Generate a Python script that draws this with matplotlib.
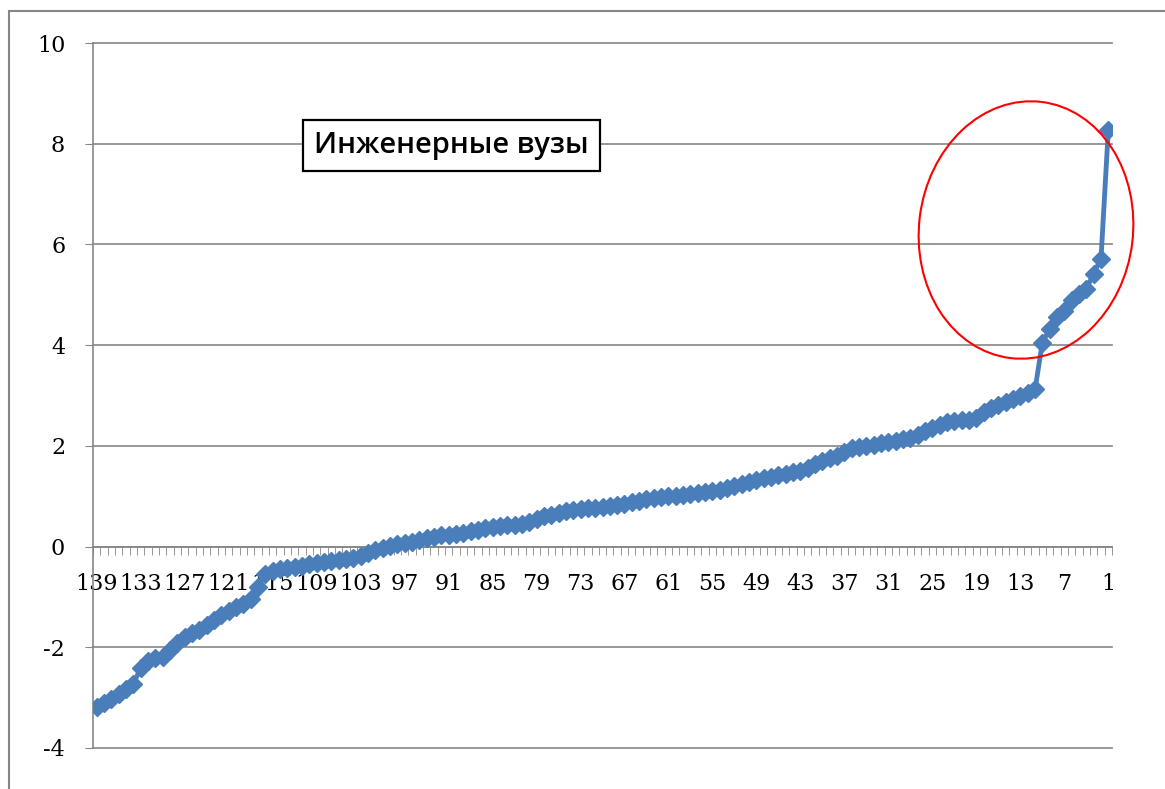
import matplotlib
matplotlib.use('Agg')
import matplotlib.pyplot as plt
from matplotlib.patches import Ellipse, Rectangle

# data: rank (139 .. 1) and score
ranks = list(range(139, 0, -1))
values = [
    -3.18, -3.10, -3.02, -2.92, -2.82, -2.72, -2.42, -2.27, -2.22, -2.20,
    -2.05, -1.92, -1.80, -1.72, -1.65, -1.55, -1.45, -1.35, -1.27, -1.20,
    -1.15, -1.05, -0.80, -0.55, -0.48, -0.45, -0.43, -0.41, -0.38, -0.35,
    -0.33, -0.31, -0.29, -0.27, -0.24, -0.22, -0.18, -0.12, -0.06, -0.02,
    0.02, 0.05, 0.07, 0.10, 0.13, 0.17, 0.20, 0.22, 0.23, 0.25,
    0.27, 0.30, 0.33, 0.36, 0.38, 0.40, 0.42, 0.43, 0.45, 0.48,
    0.55, 0.60, 0.63, 0.66, 0.70, 0.73, 0.75, 0.76, 0.77, 0.78,
    0.80, 0.82, 0.85, 0.88, 0.91, 0.94, 0.96, 0.98, 1.00, 1.01,
    1.02, 1.04, 1.06, 1.08, 1.10, 1.13, 1.16, 1.20, 1.24, 1.28,
    1.32, 1.36, 1.39, 1.42, 1.45, 1.48, 1.51, 1.56, 1.63, 1.70,
    1.76, 1.80, 1.88, 1.95, 1.98, 2.00, 2.02, 2.05, 2.08, 2.10,
    2.13, 2.16, 2.22, 2.30, 2.36, 2.42, 2.48, 2.50, 2.51, 2.52,
    2.55, 2.68, 2.75, 2.82, 2.88, 2.94, 2.99, 3.05, 3.12, 4.05,
    4.32, 4.55, 4.68, 4.90, 5.02, 5.12, 5.42, 5.72, 8.28,
]
title = 'Инженерные вузы'
yticks = [-4, -2, 0, 2, 4, 6, 8, 10]

grid_col = '#868686'
line_col = '#4a7ebb'
tick_font = {'family': 'DejaVu Serif', 'size': 16}

fig = plt.figure(figsize=(11.65, 7.89), dpi=100)
ax = fig.add_axes([93 / 1165, 41 / 789, 1019 / 1165, 705 / 789])

pos = list(range(len(ranks)))
ax.plot(pos, values, color=line_col, lw=3.5, marker='D', ms=9.5,
        mec=line_col, mfc=line_col, zorder=3)

ax.set_xlim(-0.5, len(ranks) - 0.5)
ax.set_ylim(-4, 10)

# y axis + grid
ax.set_yticks(yticks)
ax.set_yticklabels([str(v) for v in yticks], fontdict=tick_font)
ax.yaxis.grid(True, color=grid_col, lw=1.2)
for gl in ax.get_ygridlines():
    gl.set_clip_on(False)
ax.set_axisbelow(True)
ax.tick_params(axis='y', direction='out', length=6, color=grid_col, pad=14)

# category axis crossing at 0, ticks between categories
ax.spines['bottom'].set_position(('data', 0))
for s in ['top', 'right']:
    ax.spines[s].set_visible(False)
for s in ['left', 'bottom']:
    ax.spines[s].set_color(grid_col)
    ax.spines[s].set_linewidth(1.2)
lab_pos = pos[::6]
ax.set_xticks(lab_pos)
ax.set_xticklabels([str(ranks[i]) for i in lab_pos], fontdict=tick_font)
ax.set_xticks([p - 0.5 for p in pos] + [pos[-1] + 0.5], minor=True)
ax.tick_params(axis='x', which='major', length=0, pad=19)
ax.tick_params(axis='x', which='minor', direction='out', length=6, color=grid_col)

# title box
ax.text(0.352, 0.855, title, transform=ax.transAxes, ha='center', va='center',
        family=['Open Sans', 'DejaVu Sans'], size=21, weight='semibold', zorder=4,
        bbox=dict(boxstyle='square,pad=0.38', fc='white', ec='black', lw=1.6))

# red ellipse around the top group
fig.patches.append(Ellipse((10.26, 5.59), 2.14, 2.58, angle=-7, fill=False,
                           ec='red', lw=1.5, transform=fig.dpi_scale_trans))
# outer chart border
fig.patches.append(Rectangle((0.09, -0.5), 12, 7.78 + 0.5, fill=False,
                             ec=grid_col, lw=1.5, transform=fig.dpi_scale_trans))

plt.savefig('out.png', dpi=100)
